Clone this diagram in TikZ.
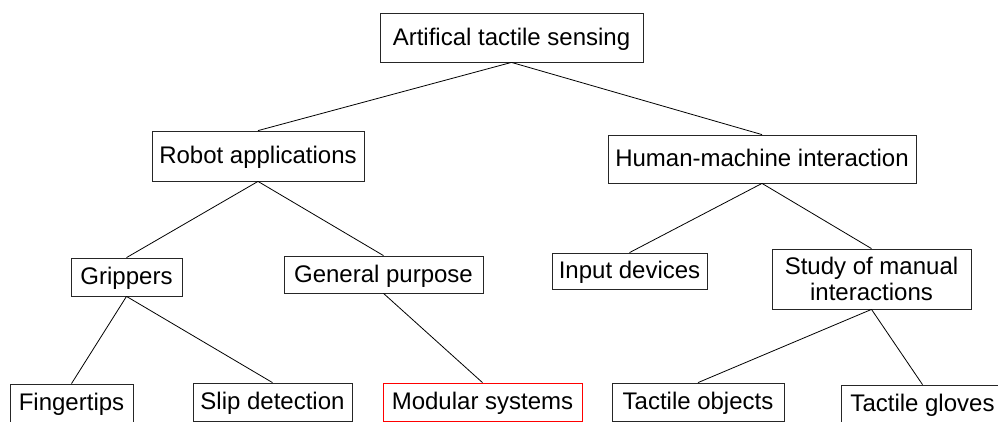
\documentclass[tikz,border=0pt]{standalone}
\usepackage{fontspec}
\setmainfont{Liberation Sans}
\begin{document}
\begin{tikzpicture}[x=1pt,y=-1pt,
  box/.style={draw=black!85, line width=0.8pt, inner sep=0pt, align=center,
    font=\fontsize{24}{26}\selectfont, text height=17pt, text depth=1.5pt},
  box2/.style={draw=black!85, line width=0.8pt, inner sep=0pt, align=center,
    font=\fontsize{24}{26}\selectfont, text depth=0pt},
  link/.style={draw=black, line width=0.8pt}]
\useasboundingbox (0,0) rectangle (998,421);
\clip (0,0) rectangle (998,421);
\fill[white] (0,0) rectangle (998,421);
\node[box, minimum width=263pt, minimum height=49pt] (top) at (511.5,37.5) {Artifical tactile sensing};
\node[box, minimum width=212pt, minimum height=50pt] (robot) at (258,156) {Robot applications};
\node[box, minimum width=308pt, minimum height=48pt] (hmi) at (762,159) {Human-machine interaction};
\node[box, minimum width=111pt, minimum height=38pt] (grip) at (126.5,277) {Grippers};
\node[box, minimum width=199pt, minimum height=37pt] (gen) at (383.5,274.5) {General purpose};
\node[box, minimum width=155pt, minimum height=36pt] (input) at (629.5,271) {Input devices};
\node[box2, minimum width=199pt, minimum height=60pt] (study) at (871.5,279) {Study of manual\\interactions};
\node[box, minimum width=123pt, minimum height=38pt] (finger) at (71.5,403) {Fingertips};
\node[box, minimum width=159pt, minimum height=38pt] (slip) at (272.5,402) {Slip detection};
\node[box, draw=red, minimum width=199pt, minimum height=38pt] (mod) at (482.5,402) {Modular systems};
\node[box, minimum width=172pt, minimum height=38pt] (tobj) at (698,402) {Tactile objects};
\node[box, minimum width=163pt, minimum height=38pt] (glove) at (922.5,404) {Tactile gloves};
\draw[link] (top.south) -- (robot.north);
\draw[link] (top.south) -- (hmi.north);
\draw[link] (robot.south) -- (grip.north);
\draw[link] (robot.south) -- (gen.north);
\draw[link] (hmi.south) -- (input.north);
\draw[link] (hmi.south) -- (study.north);
\draw[link] (grip.south) -- (finger.north);
\draw[link] (grip.south) -- (slip.north);
\draw[link] (gen.south) -- (mod.north);
\draw[link] (study.south) -- (tobj.north);
\draw[link] (study.south) -- (glove.north);
\end{tikzpicture}
\end{document}
